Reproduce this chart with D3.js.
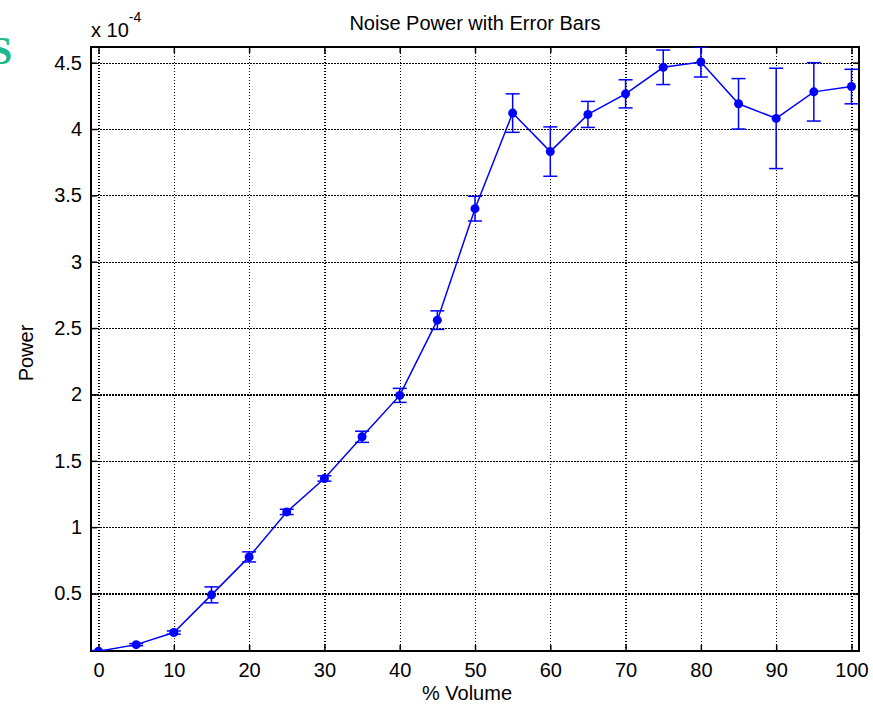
<!DOCTYPE html>
<html>
<head>
<meta charset="utf-8">
<script src="https://cdn.jsdelivr.net/npm/d3@7"></script>
<style>
  body { margin: 0; background: #fff; }
  text { font-family: "Liberation Sans", Arial, sans-serif; fill: #000; }
  .grid line { stroke: #000; stroke-width: 1.2; stroke-dasharray: 1.5,1.5; shape-rendering: crispEdges; }
  .grid .domain { display: none; }
  .axis .domain { display: none; }
  .axis line { stroke: #000; stroke-width: 1.5; }
</style>
</head>
<body>
<div id="chart"></div>
<script>
// values in units of 1e-4
var volume = [0, 5, 10, 15, 20, 25, 30, 35, 40, 45, 50, 55, 60, 65, 70, 75, 80, 85, 90, 95, 100];
var power = [0.065, 0.115, 0.206, 0.49, 0.776, 1.115, 1.367, 1.681, 1.993, 2.56, 3.40,
             4.12, 3.83, 4.11, 4.265, 4.465, 4.505, 4.19, 4.08, 4.28, 4.32];
var powerErr = [0.005, 0.008, 0.012, 0.06, 0.038, 0.02, 0.02, 0.042, 0.053, 0.07, 0.093,
                0.145, 0.186, 0.098, 0.106, 0.13, 0.113, 0.19, 0.378, 0.22, 0.13];
var xTicks = [0, 10, 20, 30, 40, 50, 60, 70, 80, 90, 100];
var yTicks = [0.5, 1, 1.5, 2, 2.5, 3, 3.5, 4, 4.5];

var W = 873, H = 714;
var margin = {top: 47, right: 14, bottom: 63, left: 91},
    w = W - margin.left - margin.right,
    h = H - margin.top - margin.bottom;

var data = volume.map(function(v, i) {
  return {x: v, y: power[i], e: powerErr[i]};
});

var svg = d3.select("#chart").append("svg")
  .attr("width", W)
  .attr("height", H);

// cropped leftover letter in the top-left corner
svg.append("text")
  .attr("x", -10)
  .attr("y", 64)
  .style("font-family", "'Liberation Serif', 'DejaVu Serif', serif")
  .style("font-weight", "bold")
  .style("font-size", "40px")
  .style("fill", "#1db98a")
  .text("S");

var g = svg.append("g")
  .attr("transform", `translate(${margin.left},${margin.top})`);

var x = d3.scaleLinear().domain([-1, 101]).range([0, w]);
var y = d3.scaleLinear().domain([0.067, 4.618]).range([h, 0]);

// dotted grid
g.append("g")
  .attr("class", "grid")
  .attr("transform", "translate(0," + h + ")")
  .call(d3.axisBottom(x).tickValues(xTicks).tickSize(-h).tickFormat(""));
g.append("g")
  .attr("class", "grid")
  .call(d3.axisLeft(y).tickValues(yTicks).tickSize(-w).tickFormat(""));

// ticks on all four sides, pointing inwards
g.append("g")
  .attr("class", "axis")
  .attr("transform", "translate(0," + h + ")")
  .call(d3.axisBottom(x).tickValues(xTicks).tickSize(-6).tickPadding(12))
  .selectAll("text")
  .style("font-size", "20px");
g.append("g")
  .attr("class", "axis")
  .call(d3.axisTop(x).tickValues(xTicks).tickSize(-6).tickFormat(""));
g.append("g")
  .attr("class", "axis")
  .call(d3.axisLeft(y).tickValues(yTicks).tickSize(-6).tickPadding(9).tickFormat(d3.format("")))
  .selectAll("text")
  .style("font-size", "20px");
g.append("g")
  .attr("class", "axis")
  .attr("transform", "translate(" + w + ",0)")
  .call(d3.axisRight(y).tickValues(yTicks).tickSize(-6).tickFormat(""));

// box
g.append("rect")
  .attr("width", w)
  .attr("height", h)
  .attr("fill", "none")
  .attr("stroke", "#000")
  .attr("stroke-width", 2);

g.append("clipPath").attr("id", "clip")
  .append("rect").attr("width", w).attr("height", h);

var plot = g.append("g").attr("clip-path", "url(#clip)");

var blue = "#0000ff";
var cap = 7;

// error bars
var eb = plot.selectAll(".eb")
  .data(data)
  .enter().append("g")
  .attr("class", "eb")
  .attr("stroke", blue)
  .attr("stroke-width", 1.5);
eb.append("line")
  .attr("x1", d => x(d.x)).attr("x2", d => x(d.x))
  .attr("y1", d => y(d.y - d.e)).attr("y2", d => y(d.y + d.e));
eb.append("line")
  .attr("x1", d => x(d.x) - cap).attr("x2", d => x(d.x) + cap)
  .attr("y1", d => y(d.y + d.e)).attr("y2", d => y(d.y + d.e));
eb.append("line")
  .attr("x1", d => x(d.x) - cap).attr("x2", d => x(d.x) + cap)
  .attr("y1", d => y(d.y - d.e)).attr("y2", d => y(d.y - d.e));

// line
plot.append("path")
  .datum(data)
  .attr("fill", "none")
  .attr("stroke", blue)
  .attr("stroke-width", 1.5)
  .attr("d", d3.line().x(d => x(d.x)).y(d => y(d.y)));

// markers
plot.selectAll(".dot")
  .data(data)
  .enter().append("circle")
  .attr("class", "dot")
  .attr("cx", d => x(d.x))
  .attr("cy", d => y(d.y))
  .attr("r", 4.5)
  .attr("fill", blue);

// titles and labels
svg.append("text")
  .attr("x", margin.left + w / 2)
  .attr("y", 30)
  .attr("text-anchor", "middle")
  .style("font-size", "20px")
  .text("Noise Power with Error Bars");

var expo = svg.append("text")
  .attr("x", 91)
  .attr("y", 37)
  .style("font-size", "20px");
expo.append("tspan").text("x 10");
expo.append("tspan")
  .attr("dy", -15)
  .style("font-size", "14px")
  .text("-4");

svg.append("text")
  .attr("x", margin.left + w / 2 - 8)
  .attr("y", 700)
  .attr("text-anchor", "middle")
  .style("font-size", "20px")
  .text("% Volume");

svg.append("text")
  .attr("transform", "translate(33," + (margin.top + h / 2 + 4) + ") rotate(-90)")
  .attr("text-anchor", "middle")
  .style("font-size", "20px")
  .text("Power");
</script>
</body>
</html>
